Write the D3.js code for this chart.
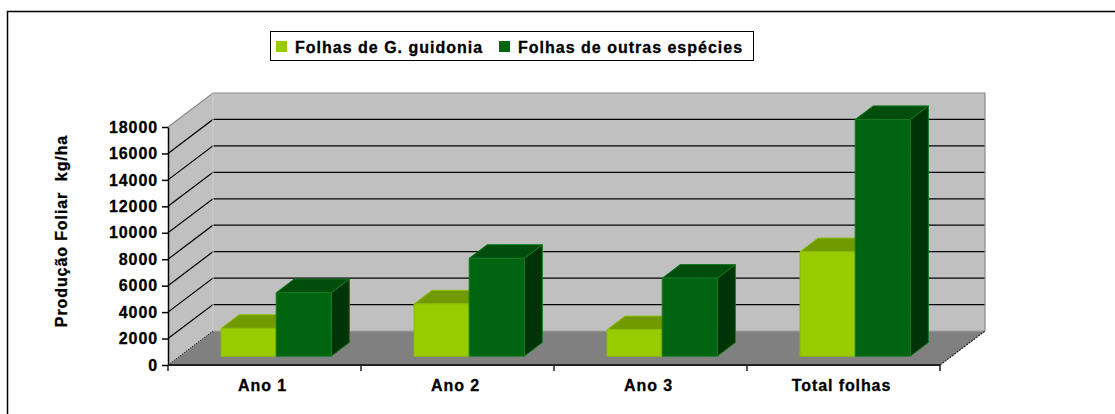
<!DOCTYPE html>
<html><head><meta charset="utf-8">
<script src="https://cdn.jsdelivr.net/npm/d3@7"></script>
<style>
body{margin:0;background:#fff;}
text{font-family:"Liberation Sans",Arial,sans-serif;font-weight:bold;stroke:#000;stroke-width:0.3px;}
</style></head>
<body>
<svg id="c" width="1115" height="414"></svg>
<script>
const categories = ["Ano 1", "Ano 2", "Ano 3", "Total folhas"];
const seriesNames = ["Folhas de G. guidonia", "Folhas de outras espécies"];
const guidonia = [2100, 3950, 2000, 7900];
const outras = [4800, 7400, 5900, 17900];
const yTicks = [0, 2000, 4000, 6000, 8000, 10000, 12000, 14000, 16000, 18000];
const yTitle = "Produção Foliar  kg/ha";

const svg = d3.select("#c");
// chart border (top & left visible)
svg.append("rect").attr("x", 7.5).attr("y", 11.5).attr("width", 1300).attr("height", 600)
  .attr("fill", "none").attr("stroke", "#000").attr("stroke-width", 1.5);

const x0 = d3.scaleBand().domain(categories).range([168, 940]).padding(0);
const y = d3.scaleLinear().domain([0, 18000]).range([365, 127]);
const DX = 45, DY = -34;
const P = (x, v, d) => [x + DX * d, y(v) + DY * d];
const line = pts => "M" + pts.map(p => p.join(",")).join("L") + "Z";

const xStart = x0.range()[0], xEnd = x0.range()[1];
const vMax = y.domain()[1];

// back wall
svg.append("path").attr("d", line([P(xStart, 0, 1), P(xEnd, 0, 1), P(xEnd, vMax, 1), P(xStart, vMax, 1)]))
  .attr("fill", "#C0C0C0");
// side wall
svg.append("path").attr("d", line([P(xStart, 0, 0), P(xStart, 0, 1), P(xStart, vMax, 1), P(xStart, vMax, 0)]))
  .attr("fill", "#C0C0C0");
// floor
svg.append("path").attr("d", line([P(xStart, 0, 0), P(xEnd, 0, 0), P(xEnd, 0, 1), P(xStart, 0, 1)]))
  .attr("fill", "#808080");

// gridlines
yTicks.filter(v => v > 0 && v < vMax).forEach(v => {
  const a = P(xStart, v, 0), b = P(xStart, v, 1), c = P(xEnd, v, 1);
  svg.append("path").attr("d", `M${a}L${b}L${c}`).attr("fill", "none").attr("stroke", "#000").attr("stroke-width", 1.2);
});
// wall edges
{
  const a = P(xStart, vMax, 0), b = P(xStart, vMax, 1), c = P(xEnd, vMax, 1), d = P(xEnd, 0, 1);
  svg.append("path").attr("d", `M${a}L${b}L${c}L${d}`).attr("fill", "none").attr("stroke", "#8a8a8a").attr("stroke-width", 1.2);
  const e = P(xStart, 0, 1);
  svg.append("path").attr("d", `M${e}L${P(xStart, vMax, 1)}`).attr("fill", "none").attr("stroke", "#d0d0d0").attr("stroke-width", 1);
  svg.append("path").attr("d", `M${e}L${d}`).attr("fill", "none").attr("stroke", "#a0a0a0").attr("stroke-width", 1);
  svg.append("path").attr("d", `M${P(xStart,0,0)}L${e}`).attr("fill", "none").attr("stroke", "#333").attr("stroke-width", 1).attr("stroke-dasharray", "1.5,1");
  svg.append("path").attr("d", `M${P(xEnd,0,0)}L${d}`).attr("fill", "none").attr("stroke", "#222").attr("stroke-width", 1.2).attr("stroke-dasharray", "2,1");
}

// bars
const bw = x0.bandwidth() / 3.5;
const x1 = d3.scaleBand().domain(seriesNames).range([0, 2 * bw]);
const d0 = 0.26, d1 = 0.66;
const styles = [
  {front: "#99CC00", top: "#709A00", side: "#5E8200", stroke: "#8CBF00"},
  {front: "#006411", top: "#004D0C", side: "#003308", stroke: "#137A1E"}
];
const seriesData = [guidonia, outras];
categories.forEach((cat, i) => {
  seriesNames.forEach((s, j) => {
    const v = seriesData[j][i];
    const xl = x0(cat) + (x0.bandwidth() - 2 * bw) / 2 + x1(s);
    const xr = xl + x1.bandwidth();
    const st = styles[j];
    const g = svg.append("g").attr("stroke", st.stroke).attr("stroke-width", 1).attr("stroke-linejoin", "round");
    g.append("path").attr("d", line([P(xr, 0, d0), P(xr, 0, d1), P(xr, v, d1), P(xr, v, d0)])).attr("fill", st.side);
    g.append("path").attr("d", line([P(xl, v, d0), P(xr, v, d0), P(xr, v, d1), P(xl, v, d1)])).attr("fill", st.top);
    g.append("path").attr("d", line([P(xl, 0, d0), P(xr, 0, d0), P(xr, v, d0), P(xl, v, d0)])).attr("fill", st.front);
  });
});

// y axis
const yAxis = d3.axisLeft(y).tickValues(yTicks).tickSize(6).tickSizeOuter(0).tickFormat(d3.format("d"));
const ga = svg.append("g").attr("transform", `translate(${xStart},0)`).call(yAxis);
ga.select(".domain").attr("stroke", "#000").attr("stroke-width", 1.5);
ga.selectAll(".tick line").attr("stroke", "#000").attr("stroke-width", 1.5);
ga.selectAll(".tick text").attr("font-size", 16).attr("font-family", "Liberation Sans, Arial, sans-serif")
  .attr("font-weight", "bold").attr("fill", "#000").attr("x", -10).attr("letter-spacing", 0.9);

// x axis
svg.append("line").attr("x1", xStart).attr("x2", xEnd).attr("y1", y(0)).attr("y2", y(0))
  .attr("stroke", "#222").attr("stroke-width", 1.8);
const bounds = categories.map(c => x0(c)).concat([xEnd]);
svg.selectAll(".xt").data(bounds).enter().append("line")
  .attr("x1", d => d).attr("x2", d => d).attr("y1", y(0)).attr("y2", y(0) + 6)
  .attr("stroke", "#222").attr("stroke-width", 1.5);
svg.selectAll(".xl").data(categories).enter().append("text")
  .attr("x", d => x0(d) + x0.bandwidth() / 2 - 2).attr("y", 391)
  .attr("text-anchor", "middle").attr("font-size", 16).attr("letter-spacing", 0.9).text(d => d);

// y title
svg.append("text").attr("transform", "translate(67,231) rotate(-90)")
  .attr("text-anchor", "middle").attr("font-size", 16).attr("letter-spacing", 0.9)
  .attr("xml:space", "preserve").style("white-space", "pre").text(yTitle);

// legend
const lg = svg.append("g");
lg.append("rect").attr("x", 270.5).attr("y", 31.5).attr("width", 483).attr("height", 29)
  .attr("fill", "#fff").attr("stroke", "#000").attr("stroke-width", 1);
const legX = [276, 499];
seriesNames.forEach((s, j) => {
  lg.append("rect").attr("x", legX[j]).attr("y", 41).attr("width", 11).attr("height", 11).attr("fill", styles[j].front);
  lg.append("text").attr("x", legX[j] + 19).attr("y", 52.5).attr("font-size", 16).attr("letter-spacing", 1).text(s);
});
</script>
</body></html>
